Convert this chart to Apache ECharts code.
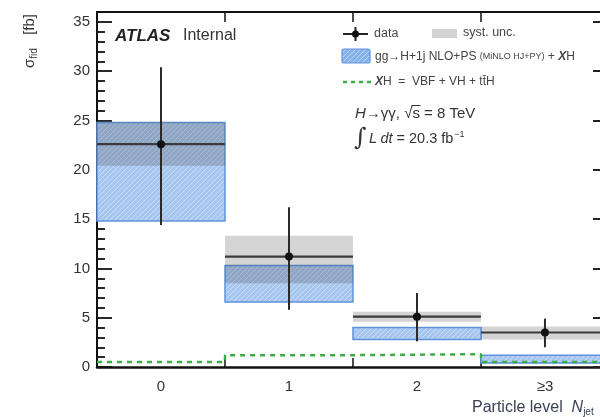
<!DOCTYPE html>
<html>
<head>
<meta charset="utf-8">
<script src="https://cdn.jsdelivr.net/npm/echarts@6/dist/echarts.min.js"></script>
<style>
html,body{margin:0;padding:0;background:#fff;}
#chart{width:600px;height:417px;}
</style>
</head>
<body>
<div id="chart"></div>
<script>
// ---- data ----
const categories = ['0', '1', '2', '≥3'];
const dataValues = [22.6, 11.2, 5.1, 3.5];
const statUp     = [30.4, 16.2, 7.5, 4.9];
const statDown   = [14.4, 5.8, 2.6, 2.0];
const systUp     = [24.8, 13.3, 5.6, 4.1];
const systDown   = [20.4, 8.5, 4.6, 2.8];
const predUp     = [24.8, 10.3, 4.0, 1.2];
const predDown   = [14.8, 6.6, 2.8, 0.4];
const xhValues   = [0.5, 1.2, 1.3, 0.5];
const yMajorTicks = [0, 5, 10, 15, 20, 25, 30, 35];
const binEdges = [-0.5, 0.5, 1.5, 2.5];
// the frame is cut by the image's right edge slightly before the last bin edge (3.5)
const xVisibleMax = 3.43;

const yMinorTicks = [];
for (let v = 1; v <= 36; v++) if (v % 5 !== 0) yMinorTicks.push(v);

const FONT = '"Liberation Sans", Arial, sans-serif';

function hatch(bg, line, size) {
  const c = document.createElement('canvas');
  c.width = c.height = size;
  const g = c.getContext('2d');
  g.fillStyle = bg; g.fillRect(0, 0, size, size);
  g.strokeStyle = line; g.lineWidth = 1;
  g.beginPath();
  g.moveTo(0, size); g.lineTo(size, 0);
  g.moveTo(-size / 2, size / 2); g.lineTo(size / 2, -size / 2);
  g.moveTo(size / 2, size * 1.5); g.lineTo(size * 1.5, size / 2);
  g.stroke();
  return c;
}
const blueHatch = hatch('#a6c6ef', '#c8dcf6', 5);
const blueHatchLegend = hatch('#88b2ea', '#b9d3f4', 5);

function measure(txt, font) {
  const c = document.createElement('canvas').getContext('2d');
  c.font = font;
  return c.measureText(txt).width;
}

const predData = categories.map((c, i) => [i, predDown[i], predUp[i]]);
const systData = categories.map((c, i) => [i, systDown[i], systUp[i]]);
const pointData = categories.map((c, i) => [i, dataValues[i], statDown[i], statUp[i]]);
const xhLine = binEdges.concat([categories.length - 0.5]).map((e, i) => [e, xhValues[Math.min(i, xhValues.length - 1)]]);

function boxRender(fill, stroke, lw) {
  return function (params, api) {
    const i = api.value(0);
    const p1 = api.coord([i - 0.5, api.value(2)]);
    const p2 = api.coord([i + 0.5, api.value(1)]);
    return {
      type: 'rect',
      shape: { x: p1[0], y: p1[1], width: p2[0] - p1[0], height: p2[1] - p1[1] },
      style: { fill: fill, stroke: stroke, lineWidth: lw }
    };
  };
}

const chart = echarts.init(document.getElementById('chart'), null, { renderer: 'canvas' });

const axisLineStyle = { color: '#111', width: 2 };

// position of the overline above "s" in "√s"
const annFont = '15px "Liberation Sans"';
const preW = measure('H', 'italic ' + annFont) + measure('→γγ, √', annFont);
const sW = measure('s', annFont);

const option = {
  animation: false,
  backgroundColor: '#fff',
  grid: { left: 97, top: 12, right: 0, bottom: 50, containLabel: false },
  xAxis: [
    {
      type: 'value', min: -0.5, max: xVisibleMax, position: 'bottom',
      axisLine: { show: true, onZero: false, lineStyle: { color: '#111', width: 2.5 } },
      axisTick: { show: true, inside: true, length: 9, customValues: binEdges, lineStyle: { color: '#111', width: 1.5 } },
      axisLabel: {
        show: true, customValues: [0, 1, 2, 3], margin: 12,
        formatter: v => categories[Math.round(v)],
        fontFamily: FONT, fontSize: 15, color: '#333'
      },
      splitLine: { show: false }
    },
    {
      type: 'value', min: -0.5, max: xVisibleMax, position: 'top',
      axisLine: { show: true, onZero: false, lineStyle: axisLineStyle },
      axisTick: { show: true, inside: true, length: 10, customValues: binEdges, lineStyle: { color: '#111', width: 1.5 } },
      axisLabel: { show: false },
      splitLine: { show: false }
    }
  ],
  yAxis: [
    {
      type: 'value', min: 0, max: 36, position: 'left',
      axisLine: { show: true, onZero: false, lineStyle: axisLineStyle },
      axisTick: { show: true, inside: true, length: 15, customValues: yMajorTicks, lineStyle: { color: '#111', width: 1.8 } },
      axisLabel: { show: true, customValues: yMajorTicks, margin: 7, fontFamily: FONT, fontSize: 15, color: '#333' },
      splitLine: { show: false }
    },
    {
      type: 'value', min: 0, max: 36, position: 'left',
      axisLine: { show: false, onZero: false },
      axisTick: { show: true, inside: true, length: 8, customValues: yMinorTicks, lineStyle: { color: '#111', width: 1.8 } },
      axisLabel: { show: false },
      splitLine: { show: false }
    },
    {
      type: 'value', min: 0, max: 36, position: 'right',
      axisLine: { show: false, onZero: false },
      axisTick: { show: true, inside: true, length: 7, customValues: yMajorTicks, lineStyle: { color: '#222', width: 2 } },
      axisLabel: { show: false },
      splitLine: { show: false }
    }
  ],
  series: [
    {
      name: 'pred', type: 'custom', xAxisIndex: 0, yAxisIndex: 0,
      renderItem: boxRender({ image: blueHatch, repeat: 'repeat' }, '#5e93dc', 1.5),
      data: predData, z: 2
    },
    {
      name: 'syst', type: 'custom', xAxisIndex: 0, yAxisIndex: 0,
      renderItem: boxRender('rgba(60,60,60,0.22)', null, 0),
      data: systData, z: 3
    },
    {
      name: 'XH', type: 'line', xAxisIndex: 0, yAxisIndex: 0,
      step: 'end', symbol: 'none',
      lineStyle: { color: '#3aae45', width: 2.5, type: [5, 5] },
      data: xhLine, z: 4
    },
    {
      name: 'data', type: 'custom', xAxisIndex: 0, yAxisIndex: 0,
      renderItem: function (params, api) {
        const i = api.value(0);
        const c = api.coord([i, api.value(1)]);
        const l = api.coord([i - 0.5, api.value(1)]);
        const r = api.coord([i + 0.5, api.value(1)]);
        const lo = api.coord([i, api.value(2)]);
        const hi = api.coord([i, api.value(3)]);
        return {
          type: 'group',
          children: [
            { type: 'line', shape: { x1: l[0], y1: l[1], x2: r[0], y2: r[1] }, style: { stroke: '#3a3a3a', lineWidth: 2.2 } },
            { type: 'line', shape: { x1: hi[0], y1: hi[1], x2: lo[0], y2: lo[1] }, style: { stroke: '#2a2a2a', lineWidth: 2 } },
            { type: 'circle', shape: { cx: c[0], cy: c[1], r: 4 }, style: { fill: '#111' } }
          ]
        };
      },
      data: pointData, z: 5
    }
  ],
  graphic: [
    // y-axis title
    {
      type: 'text', x: 30, y: 14, rotation: Math.PI / 2,
      style: {
        text: '{s|σ}{sub|fid}    {s|[fb]}', align: 'right', verticalAlign: 'middle',
        rich: {
          s: { fontFamily: FONT, fontSize: 15, fill: '#333' },
          sub: { fontFamily: FONT, fontSize: 10, fill: '#333', verticalAlign: 'bottom', padding: [8, 0, 0, 0] }
        }
      }
    },
    // ATLAS Internal
    { type: 'text', x: 115, y: 36, style: { text: 'ATLAS', fontFamily: FONT, fontSize: 17, fontWeight: 'bold', fontStyle: 'italic', fill: '#222', verticalAlign: 'middle' } },
    { type: 'text', x: 183, y: 36, style: { text: 'Internal', fontFamily: FONT, fontSize: 16, fill: '#333', verticalAlign: 'middle' } },
    // legend: data
    { type: 'line', shape: { x1: 343, y1: 34, x2: 368, y2: 34 }, style: { stroke: '#222', lineWidth: 2 } },
    { type: 'line', shape: { x1: 355.5, y1: 27, x2: 355.5, y2: 41 }, style: { stroke: '#222', lineWidth: 2 } },
    { type: 'circle', shape: { cx: 355.5, cy: 34, r: 3.5 }, style: { fill: '#111' } },
    { type: 'text', x: 374, y: 34, style: { text: 'data', fontFamily: FONT, fontSize: 12.5, fill: '#444', verticalAlign: 'middle' } },
    // legend: syst
    { type: 'rect', shape: { x: 432, y: 29, width: 25, height: 9 }, style: { fill: '#d3d3d3' } },
    { type: 'text', x: 463, y: 33, style: { text: 'syst. unc.', fontFamily: FONT, fontSize: 12.5, fill: '#444', verticalAlign: 'middle' } },
    // legend: prediction
    { type: 'rect', shape: { x: 342, y: 49, width: 28, height: 14, r: 2 }, style: { fill: { image: blueHatchLegend, repeat: 'repeat' }, stroke: '#5e93dc', lineWidth: 1.2 } },
    {
      type: 'text', x: 375, y: 57,
      style: {
        text: '{n|gg→H+1j NLO+PS }{sm|(MiNLO HJ+PY)}{n| + }{b|X}{n|H}', verticalAlign: 'middle',
        rich: {
          n: { fontFamily: FONT, fontSize: 12, fill: '#444' },
          sm: { fontFamily: FONT, fontSize: 9, fill: '#444' },
          b: { fontFamily: FONT, fontSize: 12, fill: '#444', fontWeight: 'bold', fontStyle: 'italic' }
        }
      }
    },
    // legend: XH
    { type: 'line', shape: { x1: 343, y1: 82, x2: 371, y2: 82 }, style: { stroke: '#3aae45', lineWidth: 2.5, lineDash: [4, 4] } },
    {
      type: 'text', x: 375, y: 82,
      style: {
        text: '{b|X}{n|H  =  VBF + VH + tt̄H}', verticalAlign: 'middle',
        rich: {
          n: { fontFamily: FONT, fontSize: 12, fill: '#444' },
          b: { fontFamily: FONT, fontSize: 12, fill: '#444', fontWeight: 'bold', fontStyle: 'italic' }
        }
      }
    },
    // annotations
    {
      type: 'text', x: 355, y: 114,
      style: {
        text: '{i|H}{n|→γγ, √s = 8 TeV}', verticalAlign: 'middle',
        rich: {
          n: { fontFamily: FONT, fontSize: 15, fill: '#333' },
          i: { fontFamily: FONT, fontSize: 15, fill: '#333', fontStyle: 'italic' }
        }
      }
    },
    { type: 'line', shape: { x1: 355 + preW - 1, y1: 105.5, x2: 355 + preW + sW + 0.5, y2: 105.5 }, style: { stroke: '#333', lineWidth: 1 } },
    { type: 'text', x: 354, y: 139, style: { text: '∫', fontFamily: '"DejaVu Serif", serif', fontSize: 24, fill: '#333', verticalAlign: 'middle' } },
    {
      type: 'text', x: 369, y: 139,
      style: {
        text: '{i|L} {i|dt}{n| = 20.3 fb}{sup|−1}', verticalAlign: 'middle',
        rich: {
          n: { fontFamily: FONT, fontSize: 14.5, fill: '#333' },
          i: { fontFamily: FONT, fontSize: 14.5, fill: '#333', fontStyle: 'italic' },
          sup: { fontFamily: FONT, fontSize: 9, fill: '#333', verticalAlign: 'top', padding: [0, 0, 8, 1] }
        }
      }
    },
    // x-axis title
    {
      type: 'text', x: 472, y: 408,
      style: {
        text: '{n|Particle level  }{i|N}{sub|jet}', verticalAlign: 'middle',
        rich: {
          n: { fontFamily: FONT, fontSize: 16, fill: '#3c4058' },
          i: { fontFamily: FONT, fontSize: 16, fill: '#3c4058', fontStyle: 'italic' },
          sub: { fontFamily: FONT, fontSize: 10, fill: '#3c4058', verticalAlign: 'bottom', padding: [8, 0, 0, 0] }
        }
      }
    }
  ]
};
chart.setOption(option);
</script>
</body>
</html>
